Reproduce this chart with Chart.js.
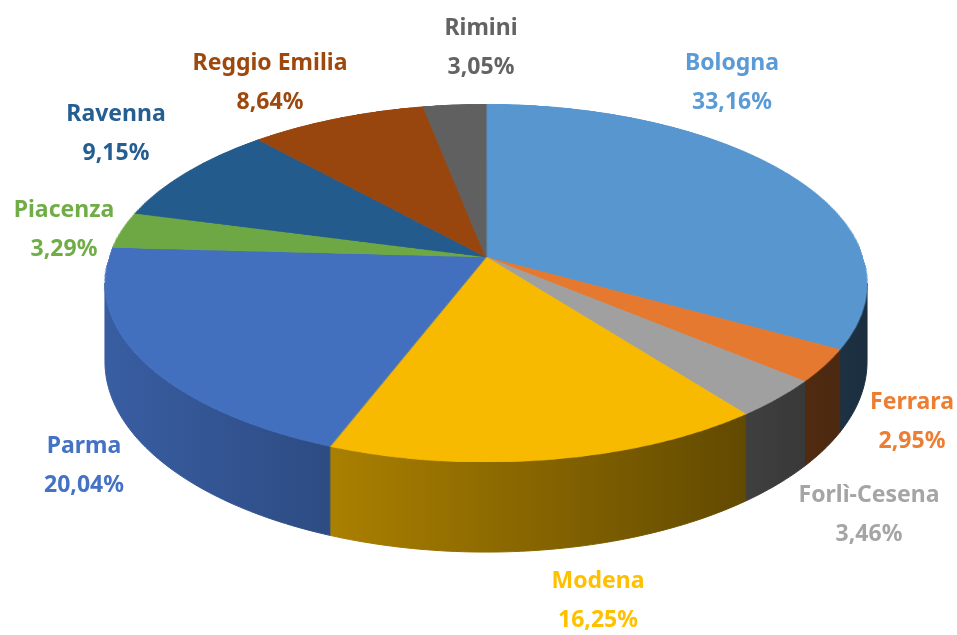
<!DOCTYPE html>
<html>
<head>
<meta charset="utf-8">
<script src="https://cdn.jsdelivr.net/npm/chart.js@4.4.1/dist/chart.umd.min.js"></script>
<style>
  html, body { margin: 0; padding: 0; background: #ffffff; }
  #pie { display: block; }
</style>
</head>
<body>
<canvas id="pie" width="957" height="635"></canvas>
<script>
// ---------------------------------------------------------
// DATA
// ---------------------------------------------------------
const provinces = ['Bologna', 'Ferrara', 'Forlì-Cesena', 'Modena', 'Parma', 'Piacenza', 'Ravenna', 'Reggio Emilia', 'Rimini'];
const shares = [33.16, 2.95, 3.46, 16.25, 20.04, 3.29, 9.15, 8.64, 3.05];
const shareLabels = ['33,16%', '2,95%', '3,46%', '16,25%', '20,04%', '3,29%', '9,15%', '8,64%', '3,05%'];

// Office theme colours, one per province
const sliceColors = ['#5B9BD5', '#ED7D31', '#A5A5A5', '#FFC000', '#4472C4', '#70AD47', '#255E91', '#9E480E', '#636363'];

// label text anchors (centre x, baseline of the name line)
const labelAnchors = [[732, 70], [912, 409], [869, 502], [598, 588], [84, 453], [64, 217], [116, 121], [270, 70], [481, 35]];

// ---------------------------------------------------------
// 3D LOOK (perspective-tilted top face + front wall)
// ---------------------------------------------------------
const TX = 486, TY = 257;   // screen point where the slices meet
const K = 377;              // horizontal half width at the centre row
const AR = 175.2;           // vertical scale of the tilted disc
const TILT = -0.1453;       // perspective strength
const DEPTH0 = 77;          // wall height before perspective
const LINE_GAP = 39;

function shade(hex, f) {
    const n = parseInt(hex.slice(1), 16);
    const r = Math.round(((n >> 16) & 255) * f);
    const g = Math.round(((n >> 8) & 255) * f);
    const b = Math.round((n & 255) * f);
    return `rgb(${r},${g},${b})`;
}

// point of the disc rim at angle t, projected to the screen
function rim(t, drop) {
    const w = 1 + TILT * Math.sin(t);
    return [TX + K * Math.cos(t) / w, TY + AR * Math.sin(t) / w + (drop ? DEPTH0 / w : 0)];
}

const pie3d = {
    id: 'pie3d',
    beforeDatasetsDraw(chart) {
        const ctx = chart.ctx;
        const arcs = chart.getDatasetMeta(0).data;
        const R = arcs[0].outerRadius, cx = arcs[0].x, cy = arcs[0].y;

        // front wall: only the part of each slice facing the viewer
        const edge = Math.asin(-TILT);
        arcs.forEach((arc, i) => {
            const a = Math.max(arc.startAngle, edge);
            const b = Math.min(arc.endAngle, Math.PI - edge);
            if (b <= a) return;
            const steps = Math.max(4, Math.ceil((b - a) * 60));
            ctx.beginPath();
            for (let k = 0; k <= steps; k++) {
                const p = rim(a + (b - a) * k / steps, false);
                k ? ctx.lineTo(p[0], p[1]) : ctx.moveTo(p[0], p[1]);
            }
            for (let k = steps; k >= 0; k--) {
                const p = rim(a + (b - a) * k / steps, true);
                ctx.lineTo(p[0], p[1]);
            }
            ctx.closePath();
            const grad = ctx.createLinearGradient(TX - K, 0, TX + K, 0);
            grad.addColorStop(0, shade(sliceColors[i], 0.82));
            grad.addColorStop(1, shade(sliceColors[i], 0.30));
            ctx.fillStyle = grad;
            ctx.strokeStyle = grad;
            ctx.lineWidth = 1;
            ctx.fill();
            ctx.stroke();
        });

        // top face: the library's arc elements drawn flat, then tilted row by row
        const off = document.createElement('canvas');
        off.width = off.height = Math.ceil(2 * R + 2);
        const octx = off.getContext('2d');
        octx.translate(R + 1 - cx, R + 1 - cy);
        arcs.forEach(arc => arc.draw(octx));

        const toS = d => d / (AR - TILT * d);
        const yTop = Math.floor(TY + AR * -1 / (1 - TILT));
        const yBot = Math.ceil(TY + AR / (1 + TILT));
        for (let y = yTop; y <= yBot; y++) {
            const s0 = Math.max(-1, toS(y - TY));
            const s1 = Math.min(1, toS(y + 1 - TY));
            if (s1 <= s0) continue;
            const sm = (s0 + s1) / 2;
            const sc = 1 / (1 + TILT * sm);
            ctx.drawImage(off, 1, R * (1 + s0) + 1, 2 * R, R * (s1 - s0),
                TX - K * sc, y, 2 * K * sc, 1);
        }
        return false;
    },
    afterDraw(chart) {
        const ctx = chart.ctx;
        ctx.save();
        ctx.font = 'bold 23px "Noto Sans"';
        ctx.textAlign = 'center';
        ctx.textBaseline = 'alphabetic';
        provinces.forEach((name, i) => {
            const [x, y] = labelAnchors[i];
            ctx.fillStyle = sliceColors[i];
            ctx.fillText(name, x, y);
            ctx.fillText(shareLabels[i], x, y + LINE_GAP);
        });
        ctx.restore();
    }
};

// ---------------------------------------------------------
// CHART
// ---------------------------------------------------------
const topColors = sliceColors.map(c => shade(c, 0.97));

new Chart(document.getElementById('pie'), {
    type: 'pie',
    data: {
        labels: provinces,
        datasets: [{
            data: shares,
            backgroundColor: topColors,
            borderColor: topColors,
            borderWidth: 1
        }]
    },
    options: {
        responsive: false,
        animation: false,
        events: [],
        plugins: {
            legend: { display: false },
            tooltip: { enabled: false }
        }
    },
    plugins: [pie3d]
});
</script>
</body>
</html>
